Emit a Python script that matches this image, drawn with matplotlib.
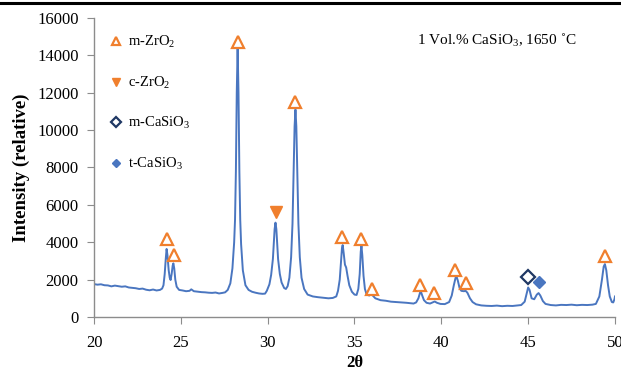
import matplotlib.pyplot as plt
from matplotlib.lines import Line2D

plt.rcParams['font.family'] = ['Liberation Serif', 'DejaVu Serif']
plt.rcParams['mathtext.fontset'] = 'custom'
plt.rcParams['mathtext.rm'] = 'Liberation Serif'
plt.rcParams['mathtext.it'] = 'Liberation Serif:italic'
plt.rcParams['mathtext.bf'] = 'Liberation Serif:bold'

# XRD pattern (2theta, intensity)
two_theta = [
    20.0, 20.2, 20.4, 20.6, 20.8, 21.0, 21.2, 21.4, 21.6, 21.8, 22.0, 22.2, 22.4, 22.6,
    22.8, 23.0, 23.2, 23.4, 23.6, 23.8, 23.92, 24.0, 24.07, 24.13, 24.18, 24.23, 24.3,
    24.36, 24.41, 24.47, 24.53, 24.57, 24.62, 24.68, 24.76, 24.9, 25.1, 25.3, 25.5,
    25.6, 25.75, 26.0, 26.2, 26.4, 26.6, 26.8, 27.0, 27.2, 27.4, 27.55, 27.7, 27.85,
    27.97, 28.07, 28.12, 28.17, 28.22, 28.27, 28.32, 28.37, 28.42, 28.47, 28.57, 28.72,
    28.9, 29.1, 29.3, 29.5, 29.7, 29.85, 29.95, 30.1, 30.2, 30.3, 30.35, 30.4, 30.45,
    30.5, 30.55, 30.6, 30.7, 30.8, 30.95, 31.05, 31.15, 31.25, 31.35, 31.43, 31.5,
    31.55, 31.6, 31.65, 31.7, 31.77, 31.85, 31.95, 32.1, 32.3, 32.6, 32.9, 33.2, 33.5,
    33.75, 33.95, 34.05, 34.15, 34.22, 34.28, 34.32, 34.38, 34.45, 34.52, 34.6, 34.7,
    34.85, 35.0, 35.12, 35.22, 35.3, 35.36, 35.4, 35.45, 35.52, 35.6, 35.7, 35.85,
    35.95, 36.05, 36.2, 36.5, 36.8, 37.1, 37.4, 37.7, 38.0, 38.2, 38.4, 38.55, 38.68,
    38.78, 38.83, 38.9, 39.0, 39.15, 39.35, 39.55, 39.62, 39.75, 39.95, 40.2, 40.45,
    40.6, 40.72, 40.82, 40.88, 40.95, 41.05, 41.15, 41.3, 41.4, 41.5, 41.65, 41.8,
    42.0, 42.3, 42.6, 42.9, 43.2, 43.5, 43.8, 44.1, 44.4, 44.6, 44.8, 44.9, 45.0,
    45.08, 45.2, 45.35, 45.5, 45.6, 45.7, 45.85, 46.0, 46.3, 46.6, 46.9, 47.2, 47.5,
    47.8, 48.1, 48.4, 48.7, 48.9, 49.1, 49.25, 49.35, 49.42, 49.5, 49.6, 49.7, 49.82,
    49.9, 49.97, 50.0,
]
intensity = [
    1760, 1730, 1750, 1700, 1690, 1640, 1680, 1650, 1620, 1640, 1580, 1560, 1540, 1500,
    1520, 1460, 1430, 1470, 1420, 1450, 1520, 1700, 2300, 3100, 3640, 3300, 2500,
    2100, 1980, 2300, 2750, 2870, 2600, 2000, 1620, 1450, 1420, 1380, 1400,
    1480, 1380, 1350, 1330, 1320, 1300, 1290, 1310, 1260, 1290, 1320, 1450, 1800,
    2600, 4000, 5200, 7800, 12000, 14400, 12000, 7800, 5200, 3900, 2500, 1700,
    1450, 1350, 1300, 1260, 1240, 1250, 1400, 1750, 2250, 3100, 3900, 4700, 5050,
    4700, 3900, 3100, 2300, 1850, 1550, 1500, 1650, 2100, 3200, 5000, 8000,
    10200, 11100, 10200, 8000, 5000, 3200, 2100, 1500, 1200, 1100, 1060, 1030, 1000,
    1020, 1100, 1400, 2000, 2900, 3700, 3850, 3400, 2800, 2650, 2200, 1700,
    1350, 1200, 1180, 1500, 2300, 3500, 3800, 3300, 2200, 1500, 1200, 1150,
    1230, 1150, 1000, 900, 870, 820, 800, 780, 760, 740, 720, 780, 1000,
    1320, 1340, 1150, 900, 760, 720, 800, 830, 760, 700, 690, 800,
    1150, 1700, 2100, 2150, 1950, 1550, 1400, 1380, 1400, 1300, 1000, 800,
    680, 620, 600, 590, 610, 580, 600, 590, 620, 640, 820, 1200, 1580,
    1450, 1000, 950, 1200, 1280, 1150, 850, 700, 640, 620, 650, 640, 660,
    630, 650, 640, 660, 700, 1100, 2000, 2700, 2830, 2500, 1700, 1100, 800,
    780, 950, 1100,
]

# phase markers
mzro2_x = [24.2, 24.6, 28.3, 31.6, 34.3, 35.4, 36.0, 38.8, 39.6, 40.8, 41.4, 49.4]
mzro2_y = [4150, 3300, 14700, 11500, 4300, 4200, 1500, 1700, 1300, 2500, 1800, 3250]
czro2_x = [30.5]
czro2_y = [5600]
mcasio3_x = [45.0]
mcasio3_y = [2150]
tcasio3_x = [45.6]
tcasio3_y = [1850]

orange = '#F07F2D'
blue = '#4A76C0'
navy = '#1F3864'

fig = plt.figure(figsize=(6.21, 3.74), dpi=100)
ax = fig.add_axes([0.1514, 0.1524, 0.8389, 0.7995])

ax.plot(two_theta, intensity, color=blue, lw=1.4)

ax.plot(mzro2_x, mzro2_y, ls='none', marker='^', ms=8, mfc='white', mec=orange, mew=1.6,
        label='m-ZrO$_\\mathrm{2}$')
ax.plot(czro2_x, czro2_y, ls='none', marker='v', ms=8, mfc=orange, mec=orange,
        label='c-ZrO$_\\mathrm{2}$')
ax.plot(mcasio3_x, mcasio3_y, ls='none', marker='D', ms=7, mfc='white', mec=navy, mew=1.6,
        label='m-CaSiO$_\\mathrm{3}$')
ax.plot(tcasio3_x, tcasio3_y, ls='none', marker='D', ms=6, mfc=blue, mec=blue,
        label='t-CaSiO$_\\mathrm{3}$')

ax.legend(loc='upper left', bbox_to_anchor=(0.005, 0.99), frameon=False,
          fontsize=10.5, labelspacing=1.68, handlelength=0.9, handletextpad=0.35,
          markerscale=0.75)

ax.text(0.62, 0.925, '1 Vol.% CaSiO$_\\mathrm{3}$, 1650 \u02daC', transform=ax.transAxes,
        fontsize=11, ha='left', va='center')

ax.set_xlim(20, 50)
ax.set_ylim(0, 16000)
ax.set_xticks(range(20, 51, 5))
ax.set_yticks(range(0, 16001, 2000))
ax.tick_params(axis='both', labelsize=12, colors='#8c8c8c', labelcolor='black',
               direction='out', length=5)
ax.tick_params(axis='x', pad=8)
ax.tick_params(axis='y', pad=6)
for s in ['top', 'right']:
    ax.spines[s].set_visible(False)
for s in ['left', 'bottom']:
    ax.spines[s].set_color('#8c8c8c')
    ax.spines[s].set_linewidth(1.0)

ax.set_xlabel('2θ', fontsize=12, fontweight='bold', labelpad=3)
ax.set_ylabel('Intensity (relative)', fontsize=13.5, fontweight='bold', labelpad=5)

fig.add_artist(Line2D([0, 1], [0.992, 0.992], color='black', lw=2.2, transform=fig.transFigure))

fig.savefig('out.png', dpi=100)
